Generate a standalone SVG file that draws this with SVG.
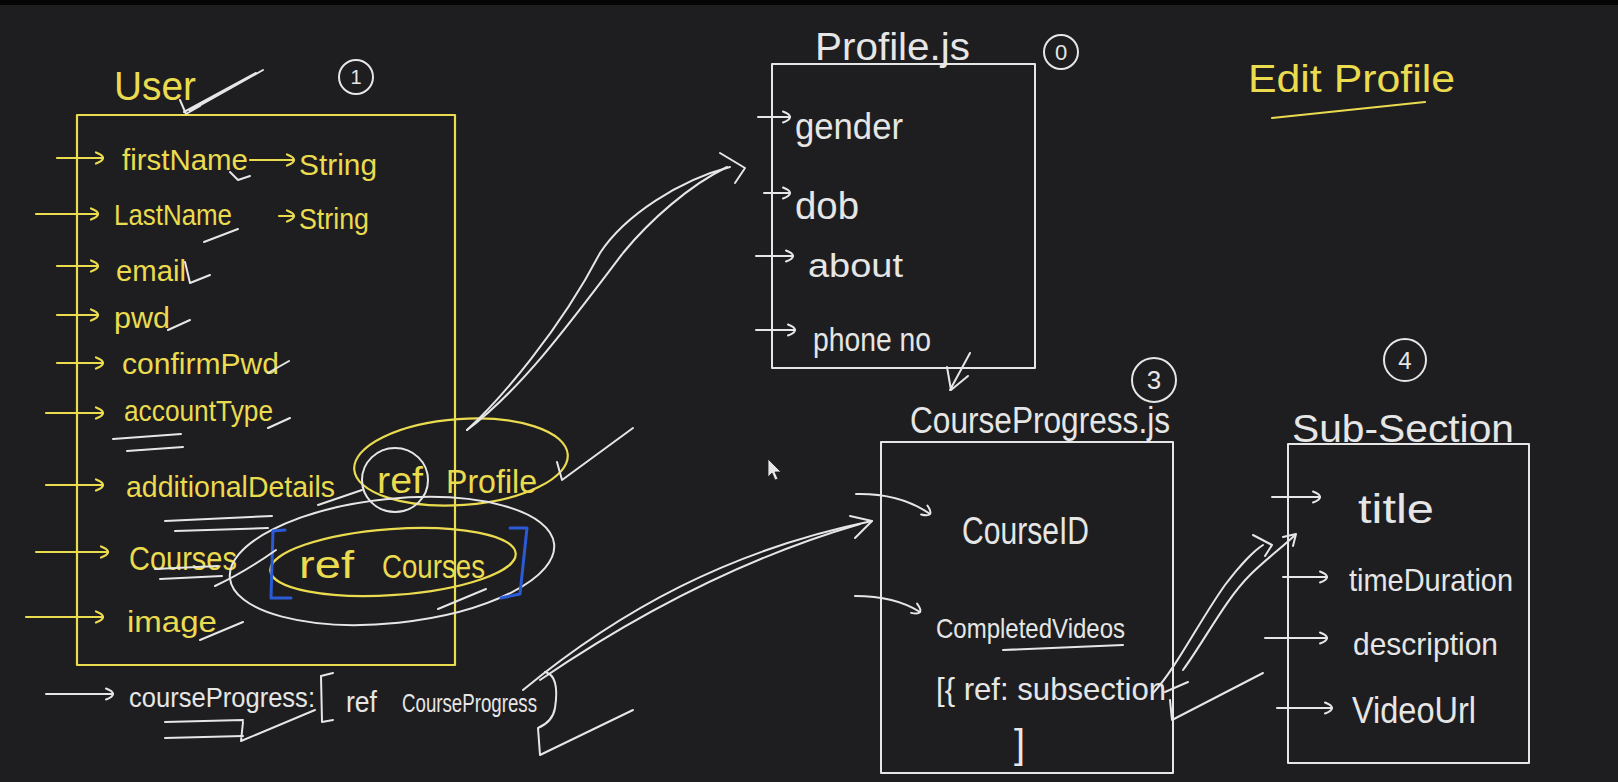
<svg xmlns="http://www.w3.org/2000/svg" width="1618" height="782" viewBox="0 0 1618 782">
<defs>
<style>
text{font-family:"Liberation Sans","DejaVu Sans",sans-serif;}
.ty{fill:#ebdb4f;}
.tw{fill:#e6e6e6;}
.sy{fill:none;stroke:#ebdb4f;stroke-width:2.2;stroke-linecap:round;stroke-linejoin:round;}
.sw{fill:none;stroke:#e6e6e6;stroke-width:2;stroke-linecap:round;stroke-linejoin:round;}
.sb{fill:none;stroke:#2b5ad6;stroke-width:3;stroke-linecap:round;stroke-linejoin:round;}
.ay{fill:none;stroke:#ebdb4f;stroke-width:2.2;stroke-linecap:round;marker-end:url(#my);}
.aw{fill:none;stroke:#e6e6e6;stroke-width:2;stroke-linecap:round;marker-end:url(#mw);}
</style>
<marker id="my" viewBox="0 0 12 14" refX="10" refY="7" markerWidth="12" markerHeight="14" markerUnits="userSpaceOnUse" orient="auto"><path d="M3,1.5 C7,3 10,5 10,7 C10,9 7,11 3,12.5" fill="none" stroke="#ebdb4f" stroke-width="2.2" stroke-linecap="round"/></marker>
<marker id="mw" viewBox="0 0 12 14" refX="10" refY="7" markerWidth="12" markerHeight="14" markerUnits="userSpaceOnUse" orient="auto"><path d="M3,1.5 C7,3 10,5 10,7 C10,9 7,11 3,12.5" fill="none" stroke="#e6e6e6" stroke-width="2" stroke-linecap="round"/></marker>
</defs>
<rect x="0" y="0" width="1618" height="782" fill="#1e1e21"/>
<rect x="0" y="0" width="1618" height="5" fill="#050505"/>

<g id="user">
<rect x="77" y="115" width="378" height="550" class="sy"/>
<text class="ty" x="114" y="100" font-size="40" textLength="82" lengthAdjust="spacingAndGlyphs">User</text>
<path class="sw" d="M263,70 L190,111 M256,73 L184,112 M180,100 L186,114 L200,106"/>
<path class="ay" d="M57,158 H103"/>
<text class="ty" x="122" y="170" font-size="30" textLength="126" lengthAdjust="spacingAndGlyphs">firstName</text>
<path class="ay" d="M250,160 H294"/>
<text class="ty" x="299" y="175" font-size="30" textLength="78" lengthAdjust="spacingAndGlyphs">String</text>
<path class="ay" d="M36,214 H98"/>
<text class="ty" x="114" y="225" font-size="30" textLength="118" lengthAdjust="spacingAndGlyphs">LastName</text>
<path class="ay" d="M279,216 H294"/>
<text class="ty" x="299" y="229" font-size="30" textLength="70" lengthAdjust="spacingAndGlyphs">String</text>
<path class="ay" d="M57,266 H98"/>
<text class="ty" x="116" y="281" font-size="30" textLength="70" lengthAdjust="spacingAndGlyphs">email</text>
<path class="ay" d="M57,315 H98"/>
<text class="ty" x="114" y="328" font-size="30" textLength="56" lengthAdjust="spacingAndGlyphs">pwd</text>
<path class="ay" d="M57,363 H103"/>
<text class="ty" x="122" y="374" font-size="30" textLength="157" lengthAdjust="spacingAndGlyphs">confirmPwd</text>
<path class="ay" d="M46,413 H103"/>
<text class="ty" x="124" y="421" font-size="30" textLength="149" lengthAdjust="spacingAndGlyphs">accountType</text>
<path class="ay" d="M46,485 H103"/>
<text class="ty" x="126" y="497" font-size="30" textLength="209" lengthAdjust="spacingAndGlyphs">additionalDetails</text>
<text class="ty" x="377" y="493" font-size="36" textLength="46" lengthAdjust="spacingAndGlyphs">ref</text>
<text class="ty" x="446" y="493" font-size="34" textLength="91" lengthAdjust="spacingAndGlyphs">Profile</text>
<ellipse class="sy" cx="461" cy="462" rx="107" ry="43" transform="rotate(-4 461 462)"/>
<ellipse class="sw" cx="395" cy="480" rx="33" ry="32"/>
<path class="ay" d="M36,552 H108"/>
<text class="ty" x="129" y="570" font-size="34" textLength="108" lengthAdjust="spacingAndGlyphs">Courses</text>
<text class="ty" x="299" y="578" font-size="38" textLength="55" lengthAdjust="spacingAndGlyphs">ref</text>
<text class="ty" x="382" y="578" font-size="34" textLength="103" lengthAdjust="spacingAndGlyphs">Courses</text>
<ellipse class="sy" cx="393" cy="562" rx="123" ry="33" transform="rotate(-4 393 562)"/>
<ellipse class="sw" cx="392" cy="561" rx="163" ry="62" transform="rotate(-6 392 561)"/>
<path class="sb" d="M285,530 L273,531 L271,598 L291,598"/>
<path class="sb" d="M510,528 L527,528 L520,594 L501,598"/>
<path class="ay" d="M26,617 H103"/>
<text class="ty" x="127" y="632" font-size="30" textLength="90" lengthAdjust="spacingAndGlyphs">image</text>
<path class="sw" d="M230,172 L238,180 L250,176 M204,242 L238,229 M185,262 L190,283 L210,275 M168,330 L190,320 M268,373 L289,361 M268,428 L290,418 M113,439 L181,434 M127,451 L183,447 M165,521 L272,516 M175,531 L268,528 M318,505 L362,490 M155,569 L218,566 M160,579 L222,576 M215,586 Q245,572 276,550 M200,640 L243,622 M438,609 L486,589"/>
<path class="aw" d="M46,694 H113"/>
<text class="tw" x="129" y="707" font-size="28" textLength="186" lengthAdjust="spacingAndGlyphs">courseProgress:</text>
<path class="sw" d="M333,673 L321,676 L322,722 L333,720"/>
<text class="tw" x="346" y="712" font-size="30" textLength="31" lengthAdjust="spacingAndGlyphs">ref</text>
<text class="tw" x="402" y="712" font-size="25" textLength="135" lengthAdjust="spacingAndGlyphs">CourseProgress</text>
<path class="sw" d="M165,722 L243,720 M165,738 L243,736 M243,722 L241,741 L315,710"/>
</g>

<g id="profile">
<rect x="772" y="64" width="263" height="304" class="sw"/>
<text class="tw" x="815" y="60" font-size="38" textLength="155" lengthAdjust="spacingAndGlyphs">Profile.js</text>
<path class="aw" d="M758,117 H790"/>
<text class="tw" x="795" y="139" font-size="36" textLength="108" lengthAdjust="spacingAndGlyphs">gender</text>
<path class="aw" d="M764,193 H790"/>
<text class="tw" x="795" y="219" font-size="38" textLength="64" lengthAdjust="spacingAndGlyphs">dob</text>
<path class="aw" d="M756,256 H793"/>
<text class="tw" x="808" y="277" font-size="34" textLength="95" lengthAdjust="spacingAndGlyphs">about</text>
<path class="aw" d="M756,330 H795"/>
<text class="tw" x="813" y="351" font-size="33" textLength="118" lengthAdjust="spacingAndGlyphs">phone no</text>
</g>

<g id="courseProgress">
<rect x="881" y="442" width="292" height="331" class="sw"/>
<text class="tw" x="910" y="433" font-size="36" textLength="260" lengthAdjust="spacingAndGlyphs">CourseProgress.js</text>
<path class="aw" d="M856,494 Q900,493 930,514"/>
<text class="tw" x="962" y="544" font-size="38" textLength="127" lengthAdjust="spacingAndGlyphs">CourseID</text>
<path class="aw" d="M855,596 Q895,596 920,612"/>
<text class="tw" x="936" y="638" font-size="28" textLength="189" lengthAdjust="spacingAndGlyphs">CompletedVideos</text>
<path class="sw" d="M1003,650 L1123,645"/>
<text class="tw" x="936" y="700" font-size="32" textLength="230" lengthAdjust="spacingAndGlyphs">[{ ref: subsection</text>
<text class="tw" x="1014" y="758" font-size="40">]</text>
</g>

<g id="subSection">
<rect x="1288" y="444" width="241" height="319" class="sw"/>
<text class="tw" x="1292" y="442" font-size="38" textLength="222" lengthAdjust="spacingAndGlyphs">Sub-Section</text>
<path class="aw" d="M1272,497 H1320"/>
<text class="tw" x="1358" y="523" font-size="40" textLength="76" lengthAdjust="spacingAndGlyphs">title</text>
<path class="aw" d="M1283,577 H1327"/>
<text class="tw" x="1349" y="591" font-size="32" textLength="164" lengthAdjust="spacingAndGlyphs">timeDuration</text>
<path class="aw" d="M1265,638 H1327"/>
<text class="tw" x="1353" y="655" font-size="32" textLength="145" lengthAdjust="spacingAndGlyphs">description</text>
<path class="aw" d="M1277,708 H1332"/>
<text class="tw" x="1352" y="723" font-size="36" textLength="124" lengthAdjust="spacingAndGlyphs">VideoUrl</text>
</g>

<g id="editProfile">
<text class="ty" x="1248" y="92" font-size="38" textLength="207" lengthAdjust="spacingAndGlyphs">Edit Profile</text>
<path class="sy" d="M1272,118 L1425,102"/>
</g>

<g id="badges">
<circle class="sw" cx="356" cy="77" r="17"/>
<text class="tw" x="356" y="84" font-size="20" text-anchor="middle">1</text>
<circle class="sw" cx="1061" cy="52" r="17"/>
<text class="tw" x="1061" y="60" font-size="22" text-anchor="middle">0</text>
<circle class="sw" cx="1154" cy="380" r="22"/>
<text class="tw" x="1154" y="389" font-size="26" text-anchor="middle">3</text>
<circle class="sw" cx="1405" cy="360" r="21"/>
<text class="tw" x="1405" y="369" font-size="24" text-anchor="middle">4</text>
</g>

<g id="connectors">
<path class="sw" d="M467,430 C500,400 560,330 600,253 C625,215 680,180 730,167"/>
<path class="sw" d="M467,430 C520,390 565,330 623,253 C650,220 690,185 727,167"/>
<path class="sw" d="M720,153 L745,168 L735,183"/>
<path class="sw" d="M557,462 L562,480 L633,428"/>
<path class="sw" d="M523,690 C620,610 730,550 872,521"/>
<path class="sw" d="M540,680 C640,612 750,556 860,524"/>
<path class="sw" d="M850,516 L872,521 L855,538"/>
<path class="sw" d="M545,672 C558,675 557,695 555,708 C553,720 545,725 538,728 L540,755 L633,710"/>
<path class="sw" d="M1153,693 C1175,670 1200,620 1225,585 C1240,565 1255,550 1263,545"/>
<path class="sw" d="M1183,670 C1205,640 1225,600 1250,575 C1265,560 1285,545 1295,535"/>
<path class="sw" d="M1253,535 L1272,545 L1265,556 M1283,537 L1296,534 L1293,546"/>
<path class="sw" d="M1170,700 L1172,720 L1263,673 M1165,692 L1188,682"/>
<path class="sw" d="M970,353 L950,390 M947,367 L951,390 L968,376"/>
</g>

<path d="M768,459 L768,477 L772,473 L775,480 L778,479 L775,472 L781,472 Z" fill="#e6e6e6" stroke="#1e1e21" stroke-width="0.8"/>
</svg>
